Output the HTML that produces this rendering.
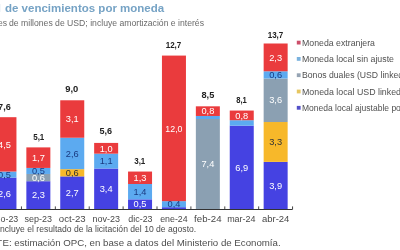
<!DOCTYPE html>
<html><head><meta charset="utf-8"><style>
html,body{margin:0;padding:0;background:#fff;width:400px;height:250px;overflow:hidden}
svg{display:block;filter:blur(0.35px)}
</style></head><body>
<svg width="400" height="250" viewBox="0 0 400 250">
<rect width="400" height="250" fill="#fff"/>
<rect x="-7.55" y="177.59" width="24.0" height="31.41" fill="#4542e2"/>
<text x="4.45" y="196.50" fill="#ffffff" font-size="9" font-weight="normal" text-anchor="middle" textLength="12.90" lengthAdjust="spacingAndGlyphs" font-family="Liberation Sans, sans-serif">2,6</text>
<rect x="-7.55" y="171.55" width="24.0" height="6.04" fill="#5caaf0"/>
<text x="4.45" y="177.77" fill="#1a3a80" font-size="9" font-weight="normal" text-anchor="middle" textLength="12.90" lengthAdjust="spacingAndGlyphs" font-family="Liberation Sans, sans-serif">0,5</text>
<rect x="-7.55" y="117.19" width="24.0" height="54.36" fill="#ea3b3d"/>
<text x="4.45" y="147.57" fill="#ffffff" font-size="9" font-weight="normal" text-anchor="middle" textLength="12.90" lengthAdjust="spacingAndGlyphs" font-family="Liberation Sans, sans-serif">4,5</text>
<text x="4.45" y="110.00" fill="#222" font-size="8.8" font-weight="bold" text-anchor="middle" textLength="12.70" lengthAdjust="spacingAndGlyphs" font-family="Liberation Sans, sans-serif">7,6</text>
<text x="4.45" y="221.75" fill="#484848" font-size="8.2" font-weight="normal" text-anchor="middle" textLength="27.50" lengthAdjust="spacingAndGlyphs" font-family="Liberation Sans, sans-serif">ago-23</text>
<rect x="26.35" y="181.22" width="24.0" height="27.78" fill="#4542e2"/>
<text x="38.35" y="198.31" fill="#ffffff" font-size="9" font-weight="normal" text-anchor="middle" textLength="12.90" lengthAdjust="spacingAndGlyphs" font-family="Liberation Sans, sans-serif">2,3</text>
<rect x="26.35" y="173.97" width="24.0" height="7.25" fill="#8ba0b2"/>
<text x="38.35" y="180.79" fill="#ffffff" font-size="9" font-weight="normal" text-anchor="middle" textLength="12.90" lengthAdjust="spacingAndGlyphs" font-family="Liberation Sans, sans-serif">0,6</text>
<rect x="26.35" y="167.93" width="24.0" height="6.04" fill="#5caaf0"/>
<text x="38.35" y="174.15" fill="#1a3a80" font-size="9" font-weight="normal" text-anchor="middle" textLength="12.90" lengthAdjust="spacingAndGlyphs" font-family="Liberation Sans, sans-serif">0,5</text>
<rect x="26.35" y="147.39" width="24.0" height="20.54" fill="#ea3b3d"/>
<text x="38.35" y="160.86" fill="#ffffff" font-size="9" font-weight="normal" text-anchor="middle" textLength="12.90" lengthAdjust="spacingAndGlyphs" font-family="Liberation Sans, sans-serif">1,7</text>
<text x="38.75" y="140.00" fill="#222" font-size="8.8" font-weight="bold" text-anchor="middle" textLength="11.10" lengthAdjust="spacingAndGlyphs" font-family="Liberation Sans, sans-serif">5,1</text>
<text x="38.35" y="221.75" fill="#484848" font-size="8.2" font-weight="normal" text-anchor="middle" textLength="27.50" lengthAdjust="spacingAndGlyphs" font-family="Liberation Sans, sans-serif">sep-23</text>
<rect x="60.25" y="176.38" width="24.0" height="32.62" fill="#4542e2"/>
<text x="72.25" y="195.89" fill="#ffffff" font-size="9" font-weight="normal" text-anchor="middle" textLength="12.90" lengthAdjust="spacingAndGlyphs" font-family="Liberation Sans, sans-serif">2,7</text>
<rect x="60.25" y="169.14" width="24.0" height="7.25" fill="#f7b82a"/>
<text x="72.25" y="175.96" fill="#333333" font-size="9" font-weight="normal" text-anchor="middle" textLength="12.90" lengthAdjust="spacingAndGlyphs" font-family="Liberation Sans, sans-serif">0,6</text>
<rect x="60.25" y="137.73" width="24.0" height="31.41" fill="#5caaf0"/>
<text x="72.25" y="156.63" fill="#1a3a80" font-size="9" font-weight="normal" text-anchor="middle" textLength="12.90" lengthAdjust="spacingAndGlyphs" font-family="Liberation Sans, sans-serif">2,6</text>
<rect x="60.25" y="100.28" width="24.0" height="37.45" fill="#ea3b3d"/>
<text x="72.25" y="122.20" fill="#ffffff" font-size="9" font-weight="normal" text-anchor="middle" textLength="12.90" lengthAdjust="spacingAndGlyphs" font-family="Liberation Sans, sans-serif">3,1</text>
<text x="71.75" y="92.00" fill="#222" font-size="8.8" font-weight="bold" text-anchor="middle" textLength="13.10" lengthAdjust="spacingAndGlyphs" font-family="Liberation Sans, sans-serif">9,0</text>
<text x="72.25" y="221.75" fill="#484848" font-size="8.2" font-weight="normal" text-anchor="middle" textLength="26.80" lengthAdjust="spacingAndGlyphs" font-family="Liberation Sans, sans-serif">oct-23</text>
<rect x="94.15" y="168.53" width="24.0" height="40.47" fill="#4542e2"/>
<text x="106.15" y="191.97" fill="#ffffff" font-size="9" font-weight="normal" text-anchor="middle" textLength="12.90" lengthAdjust="spacingAndGlyphs" font-family="Liberation Sans, sans-serif">3,4</text>
<rect x="94.15" y="153.67" width="24.0" height="14.86" fill="#5caaf0"/>
<text x="106.15" y="164.30" fill="#1a3a80" font-size="9" font-weight="normal" text-anchor="middle" textLength="12.90" lengthAdjust="spacingAndGlyphs" font-family="Liberation Sans, sans-serif">1,1</text>
<rect x="94.15" y="142.92" width="24.0" height="10.75" fill="#ea3b3d"/>
<text x="106.15" y="151.50" fill="#ffffff" font-size="9" font-weight="normal" text-anchor="middle" textLength="12.90" lengthAdjust="spacingAndGlyphs" font-family="Liberation Sans, sans-serif">1,0</text>
<text x="105.80" y="134.00" fill="#222" font-size="8.8" font-weight="bold" text-anchor="middle" textLength="12.60" lengthAdjust="spacingAndGlyphs" font-family="Liberation Sans, sans-serif">5,6</text>
<text x="106.15" y="221.75" fill="#484848" font-size="8.2" font-weight="normal" text-anchor="middle" textLength="27.50" lengthAdjust="spacingAndGlyphs" font-family="Liberation Sans, sans-serif">nov-23</text>
<rect x="128.05" y="199.34" width="24.0" height="9.66" fill="#4542e2"/>
<text x="140.05" y="207.37" fill="#ffffff" font-size="9" font-weight="normal" text-anchor="middle" textLength="12.90" lengthAdjust="spacingAndGlyphs" font-family="Liberation Sans, sans-serif">0,5</text>
<rect x="128.05" y="183.99" width="24.0" height="15.34" fill="#5caaf0"/>
<text x="140.05" y="194.87" fill="#1a3a80" font-size="9" font-weight="normal" text-anchor="middle" textLength="12.90" lengthAdjust="spacingAndGlyphs" font-family="Liberation Sans, sans-serif">1,4</text>
<rect x="128.05" y="171.55" width="24.0" height="12.44" fill="#ea3b3d"/>
<text x="140.05" y="180.97" fill="#ffffff" font-size="9" font-weight="normal" text-anchor="middle" textLength="12.90" lengthAdjust="spacingAndGlyphs" font-family="Liberation Sans, sans-serif">1,3</text>
<text x="139.75" y="163.50" fill="#222" font-size="8.8" font-weight="bold" text-anchor="middle" textLength="11.10" lengthAdjust="spacingAndGlyphs" font-family="Liberation Sans, sans-serif">3,1</text>
<text x="140.45" y="221.75" fill="#484848" font-size="8.2" font-weight="normal" text-anchor="middle" textLength="24.20" lengthAdjust="spacingAndGlyphs" font-family="Liberation Sans, sans-serif">dic-23</text>
<rect x="161.95" y="207.19" width="24.0" height="1.81" fill="#4542e2"/>
<rect x="161.95" y="201.15" width="24.0" height="6.04" fill="#5caaf0"/>
<text x="173.95" y="207.37" fill="#1a3a80" font-size="9" font-weight="normal" text-anchor="middle" textLength="12.90" lengthAdjust="spacingAndGlyphs" font-family="Liberation Sans, sans-serif">0,4</text>
<rect x="161.95" y="55.58" width="24.0" height="145.56" fill="#ea3b3d"/>
<text x="173.95" y="131.57" fill="#ffffff" font-size="9" font-weight="normal" text-anchor="middle" textLength="17.20" lengthAdjust="spacingAndGlyphs" font-family="Liberation Sans, sans-serif">12,0</text>
<text x="173.50" y="48.00" fill="#222" font-size="8.8" font-weight="bold" text-anchor="middle" textLength="15.60" lengthAdjust="spacingAndGlyphs" font-family="Liberation Sans, sans-serif">12,7</text>
<text x="173.95" y="221.75" fill="#484848" font-size="8.2" font-weight="normal" text-anchor="middle" textLength="27.50" lengthAdjust="spacingAndGlyphs" font-family="Liberation Sans, sans-serif">ene-24</text>
<rect x="195.85" y="119.00" width="24.0" height="90.00" fill="#8ba0b2"/>
<text x="207.85" y="167.20" fill="#ffffff" font-size="9" font-weight="normal" text-anchor="middle" textLength="12.90" lengthAdjust="spacingAndGlyphs" font-family="Liberation Sans, sans-serif">7,4</text>
<rect x="195.85" y="115.98" width="24.0" height="3.02" fill="#5caaf0"/>
<rect x="195.85" y="106.32" width="24.0" height="9.66" fill="#ea3b3d"/>
<text x="207.85" y="114.35" fill="#ffffff" font-size="9" font-weight="normal" text-anchor="middle" textLength="12.90" lengthAdjust="spacingAndGlyphs" font-family="Liberation Sans, sans-serif">0,8</text>
<text x="207.90" y="98.00" fill="#222" font-size="8.8" font-weight="bold" text-anchor="middle" textLength="12.80" lengthAdjust="spacingAndGlyphs" font-family="Liberation Sans, sans-serif">8,5</text>
<text x="207.85" y="221.75" fill="#484848" font-size="8.2" font-weight="normal" text-anchor="middle" textLength="27.50" lengthAdjust="spacingAndGlyphs" font-family="Liberation Sans, sans-serif">feb-24</text>
<rect x="229.75" y="125.65" width="24.0" height="83.35" fill="#4542e2"/>
<text x="241.75" y="170.52" fill="#ffffff" font-size="9" font-weight="normal" text-anchor="middle" textLength="12.90" lengthAdjust="spacingAndGlyphs" font-family="Liberation Sans, sans-serif">6,9</text>
<rect x="229.75" y="120.21" width="24.0" height="5.44" fill="#5caaf0"/>
<rect x="229.75" y="110.55" width="24.0" height="9.66" fill="#ea3b3d"/>
<text x="241.75" y="118.58" fill="#ffffff" font-size="9" font-weight="normal" text-anchor="middle" textLength="12.90" lengthAdjust="spacingAndGlyphs" font-family="Liberation Sans, sans-serif">0,8</text>
<text x="241.50" y="103.00" fill="#222" font-size="8.8" font-weight="bold" text-anchor="middle" textLength="10.60" lengthAdjust="spacingAndGlyphs" font-family="Liberation Sans, sans-serif">8,1</text>
<text x="241.35" y="221.75" fill="#484848" font-size="8.2" font-weight="normal" text-anchor="middle" textLength="28.40" lengthAdjust="spacingAndGlyphs" font-family="Liberation Sans, sans-serif">mar-24</text>
<rect x="263.65" y="161.89" width="24.0" height="47.11" fill="#4542e2"/>
<text x="275.65" y="188.64" fill="#ffffff" font-size="9" font-weight="normal" text-anchor="middle" textLength="12.90" lengthAdjust="spacingAndGlyphs" font-family="Liberation Sans, sans-serif">3,9</text>
<rect x="263.65" y="122.02" width="24.0" height="39.86" fill="#f7b82a"/>
<text x="275.65" y="145.16" fill="#333333" font-size="9" font-weight="normal" text-anchor="middle" textLength="12.90" lengthAdjust="spacingAndGlyphs" font-family="Liberation Sans, sans-serif">3,3</text>
<rect x="263.65" y="78.54" width="24.0" height="43.49" fill="#8ba0b2"/>
<text x="275.65" y="103.48" fill="#ffffff" font-size="9" font-weight="normal" text-anchor="middle" textLength="12.90" lengthAdjust="spacingAndGlyphs" font-family="Liberation Sans, sans-serif">3,6</text>
<rect x="263.65" y="71.29" width="24.0" height="7.25" fill="#5caaf0"/>
<text x="275.65" y="78.11" fill="#1a3a80" font-size="9" font-weight="normal" text-anchor="middle" textLength="12.90" lengthAdjust="spacingAndGlyphs" font-family="Liberation Sans, sans-serif">0,6</text>
<rect x="263.65" y="43.50" width="24.0" height="27.78" fill="#ea3b3d"/>
<text x="275.65" y="60.60" fill="#ffffff" font-size="9" font-weight="normal" text-anchor="middle" textLength="12.90" lengthAdjust="spacingAndGlyphs" font-family="Liberation Sans, sans-serif">2,3</text>
<text x="275.50" y="37.50" fill="#222" font-size="8.8" font-weight="bold" text-anchor="middle" textLength="15.60" lengthAdjust="spacingAndGlyphs" font-family="Liberation Sans, sans-serif">13,7</text>
<text x="275.65" y="221.75" fill="#484848" font-size="8.2" font-weight="normal" text-anchor="middle" textLength="27.50" lengthAdjust="spacingAndGlyphs" font-family="Liberation Sans, sans-serif">abr-24</text>
<rect x="-13" y="209.00" width="305.5" height="1" fill="#333"/>
<rect x="-12.95" y="206.40" width="0.9" height="3" fill="#333"/>
<rect x="20.95" y="206.40" width="0.9" height="3" fill="#333"/>
<rect x="54.85" y="206.40" width="0.9" height="3" fill="#333"/>
<rect x="88.75" y="206.40" width="0.9" height="3" fill="#333"/>
<rect x="122.65" y="206.40" width="0.9" height="3" fill="#333"/>
<rect x="156.55" y="206.40" width="0.9" height="3" fill="#333"/>
<rect x="190.45" y="206.40" width="0.9" height="3" fill="#333"/>
<rect x="224.35" y="206.40" width="0.9" height="3" fill="#333"/>
<rect x="258.25" y="206.40" width="0.9" height="3" fill="#333"/>
<rect x="292.15" y="206.40" width="0.9" height="3" fill="#333"/>
<rect x="296.8" y="40.70" width="3.8" height="3.8" fill="#cc4f6a"/>
<text x="302.00" y="45.60" fill="#505050" font-size="8.4" font-weight="normal" text-anchor="start" textLength="73.00" lengthAdjust="spacingAndGlyphs" font-family="Liberation Sans, sans-serif">Moneda extranjera</text>
<rect x="296.8" y="57.00" width="3.8" height="3.8" fill="#7ab2de"/>
<text x="302.00" y="61.90" fill="#505050" font-size="8.4" font-weight="normal" text-anchor="start" textLength="92.00" lengthAdjust="spacingAndGlyphs" font-family="Liberation Sans, sans-serif">Moneda local sin ajuste</text>
<rect x="296.8" y="73.30" width="3.8" height="3.8" fill="#96a4b4"/>
<text x="302.00" y="78.20" fill="#505050" font-size="8.4" font-weight="normal" text-anchor="start" textLength="104.00" lengthAdjust="spacingAndGlyphs" font-family="Liberation Sans, sans-serif">Bonos duales (USD linked)</text>
<rect x="296.8" y="89.60" width="3.8" height="3.8" fill="#e6c660"/>
<text x="302.00" y="94.50" fill="#505050" font-size="8.4" font-weight="normal" text-anchor="start" textLength="99.00" lengthAdjust="spacingAndGlyphs" font-family="Liberation Sans, sans-serif">Moneda local USD linked</text>
<rect x="296.8" y="105.90" width="3.8" height="3.8" fill="#5350c8"/>
<text x="302.00" y="110.80" fill="#505050" font-size="8.4" font-weight="normal" text-anchor="start" textLength="122.00" lengthAdjust="spacingAndGlyphs" font-family="Liberation Sans, sans-serif">Moneda local ajustable por CER</text>
<text x="-2.00" y="11.60" fill="#76a3c5" font-size="10" font-weight="bold" text-anchor="start" font-family="Liberation Sans, sans-serif">l</text>
<text x="5.00" y="11.60" fill="#76a3c5" font-size="10" font-weight="bold" text-anchor="start" textLength="159.20" lengthAdjust="spacingAndGlyphs" font-family="Liberation Sans, sans-serif">de vencimientos por moneda</text>
<text x="7.00" y="25.80" fill="#6a6a6a" font-size="8.6" font-weight="normal" text-anchor="end" font-family="Liberation Sans, sans-serif">es</text>
<text x="9.00" y="25.80" fill="#6a6a6a" font-size="8.6" font-weight="normal" text-anchor="start" textLength="195.00" lengthAdjust="spacingAndGlyphs" font-family="Liberation Sans, sans-serif">de millones de USD; incluye amortización e interés</text>
<text x="0.00" y="231.80" fill="#4a4a4a" font-size="8.6" font-weight="normal" text-anchor="start" textLength="196.20" lengthAdjust="spacingAndGlyphs" font-family="Liberation Sans, sans-serif">ncluye el resultado de la licitación del 10 de agosto.</text>
<text x="2.00" y="246.30" fill="#4d4d4d" font-size="8.7" font-weight="normal" text-anchor="end" font-family="Liberation Sans, sans-serif">T</text>
<text x="2.50" y="246.30" fill="#4d4d4d" font-size="8.7" font-weight="normal" text-anchor="start" textLength="278.10" lengthAdjust="spacingAndGlyphs" font-family="Liberation Sans, sans-serif">E: estimación OPC, en base a datos del Ministerio de Economía.</text>
</svg>
</body></html>
